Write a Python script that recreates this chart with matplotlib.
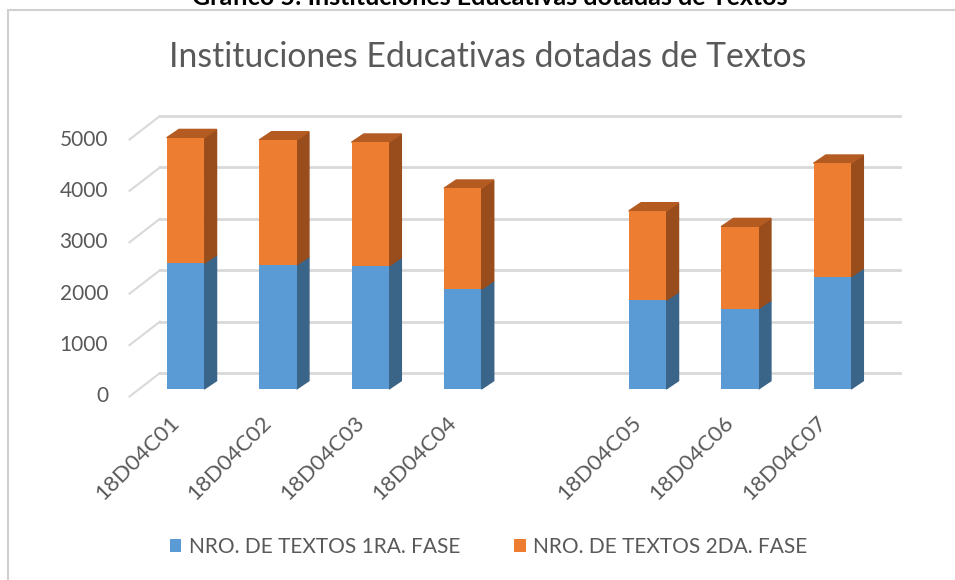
import matplotlib.pyplot as plt
from matplotlib.patches import Polygon, Rectangle

# values (blank 5th slot is an empty category in the source)
categories = ["18D04C01", "18D04C02", "18D04C03", "18D04C04", "", "18D04C05", "18D04C06", "18D04C07"]
fase1 = [2445, 2412, 2393, 1940, 0, 1725, 1563, 2185]
fase2 = [2444, 2432, 2407, 1965, 0, 1738, 1595, 2206]
yticks = [0, 1000, 2000, 3000, 4000, 5000]
series_names = ["NRO. DE TEXTOS 1RA. FASE", "NRO. DE TEXTOS 2DA. FASE"]

blue, blue_side = "#5B9BD5", "#3A6488"
orange, orange_side, orange_top = "#ED7D31", "#9A4D1C", "#B45B22"
grid_c = "#D9D9D9"
text_c = "#595959"
font = "Lato"

W, H = 955, 580
fig = plt.figure(figsize=(W / 100, H / 100), dpi=100)

# axes placed so the bar front plane lines up with the reference
x0_px, step_px = 185.5, 92.4
base_px, px_per_unit = 389, 0.0514
xl, xr = -0.6, 7.6
left = x0_px + xl * step_px
right = x0_px + xr * step_px
top = base_px - 5000 * px_per_unit
ax = fig.add_axes([left / W, (H - base_px) / H, (right - left) / W, (base_px - top) / H])
ax.set_xlim(xl, xr)
ax.set_ylim(0, 5000)
ax.axis("off")

# depth offsets (data units)
dx = 12.3 / step_px
dy = 8.3 / px_per_unit
wall_dy = 16 / px_per_unit
wall_x0 = (160 - x0_px) / step_px
wall_x1 = (900 - x0_px) / step_px
front_x = (129.5 - x0_px) / step_px
front_dy = 7.5 / px_per_unit

for v in yticks:
    ax.plot([wall_x0, wall_x1], [v + wall_dy, v + wall_dy], color=grid_c, lw=2, zorder=0, clip_on=False)
    ax.plot([front_x, wall_x0], [v - front_dy, v + wall_dy], color=grid_c, lw=1.5, zorder=0, clip_on=False)
    ax.text((108 - x0_px) / step_px, v - front_dy, f"{v}", ha="right", va="center",
            fontsize=15, color=text_c, family=font)

xs = list(range(len(categories)))
w = 37.5 / step_px
ax.bar(xs, fase1, w, color=blue, label=series_names[0], zorder=3)
ax.bar(xs, fase2, w, bottom=fase1, color=orange, label=series_names[1], zorder=3)

for x, a, b in zip(xs, fase1, fase2):
    if a + b == 0:
        continue
    r = x + w / 2
    l = x - w / 2
    t = a + b
    ax.add_patch(Polygon([(r, 0), (r + dx, dy), (r + dx, a + dy), (r, a)], color=blue_side, zorder=2, clip_on=False))
    ax.add_patch(Polygon([(r, a), (r + dx, a + dy), (r + dx, t + dy), (r, t)], color=orange_side, zorder=2, clip_on=False))
    ax.add_patch(Polygon([(l, t), (r, t), (r + dx, t + dy), (l + dx, t + dy)], color=orange_top, zorder=2, clip_on=False))

for x, lab in zip(xs, categories):
    ax.text(x - 0.1, -600, lab, rotation=45, rotation_mode="anchor", ha="right", va="center",
            fontsize=16, color=text_c, family=font)

fig.text(488 / W, 1 - 57 / H, "Instituciones Educativas dotadas de Textos", ha="center", va="center",
         fontsize=24.3, color=text_c, family=font)

# clipped caption from the page above the chart
fig.text(490 / W, 1 - 5 / H, "Gráfico 5: Instituciones Educativas dotadas de Textos", ha="center",
         va="baseline", fontsize=18, fontweight="bold", color="black", family=font)

# chart frame
fig.patches.append(Rectangle((8 / W, -0.01), 1.0, 1 - 10 / H + 0.01, transform=fig.transFigure,
                             fill=False, edgecolor="#D0D0D0", lw=1.5))

leg = fig.legend(loc="center", bbox_to_anchor=(0.5115, 1 - 547 / H), ncol=2, frameon=False,
                 prop={"family": font, "size": 15}, handlelength=0.55, handleheight=0.55,
                 handletextpad=0.35, columnspacing=2.6, labelcolor=text_c)

fig.savefig("out.png", dpi=100)
